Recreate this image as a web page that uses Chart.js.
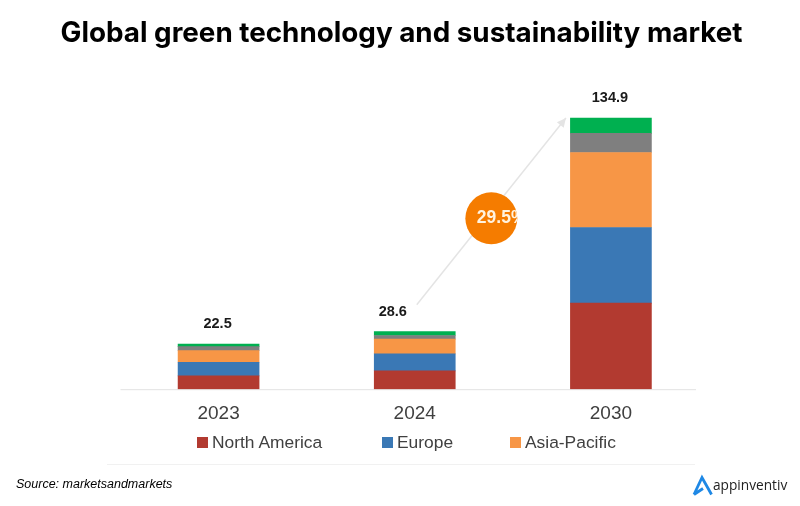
<!DOCTYPE html>
<html>
<head>
<meta charset="utf-8">
<script src="https://cdn.jsdelivr.net/npm/chart.js@4"></script>
<style>
  body { margin: 0; background: #fff; width: 800px; height: 506px; overflow: hidden; position: relative; }
  canvas { position: absolute; left: 0; top: 0; }
  #title { position: absolute; left: 0; width: 803px; top: 15px; text-align: center; font: 700 27.8px Inter, sans-serif; color: #000; white-space: nowrap; }
  #source { position: absolute; left: 16px; top: 477px; font: italic 12.5px "Liberation Sans", sans-serif; color: #000; }
  #rule { position: absolute; left: 107px; width: 588px; top: 464px; height: 1px; background: #f1f1f1; }
  #brand { position: absolute; left: 713px; top: 475px; font: 13.7px "Open Sans", sans-serif; color: #222; }
  #logo { position: absolute; left: 691px; top: 474px; }
  .key { position: absolute; top: 432px; font: 17.4px "Liberation Sans", sans-serif; color: #404040; white-space: nowrap; }
  .key i { position: absolute; left: -15px; top: 5px; width: 11px; height: 11px; }
</style>
</head>
<body>
<canvas id="chart" width="800" height="506"></canvas>
<div id="title">Global green technology and sustainability market</div>
<div id="legend"></div>
<div id="rule"></div>
<div id="source">Source: marketsandmarkets</div>
<svg id="logo" width="24" height="24" viewBox="0 0 24 24"><path d="M3 20.5 L11 3.5 L20.5 20.5 M3 20.5 L12 14.5" fill="none" stroke="#1E88E5" stroke-width="2.8"/></svg>
<div id="brand">appinventiv</div>
<script>
const categories = ['2023', '2024', '2030'];
const totals = [22.5, 28.6, 134.9];
const northAmerica = [6.6, 9.1, 42.8];
const europe = [6.8, 8.5, 37.6];
const asiaPacific = [5.8, 7.3, 37.3];
const grayRegion = [2.0, 1.8, 9.5];
const greenRegion = [1.3, 1.9, 7.7];
const cagrLabel = '29.5%';

const legendNames = ['North America', 'Europe', 'Asia-Pacific'];
const legendLeft = [212, 397, 525];

const datasets = [
  { label: 'North America', data: northAmerica, backgroundColor: '#B23A30' },
  { label: 'Europe', data: europe, backgroundColor: '#3A78B5' },
  { label: 'Asia-Pacific', data: asiaPacific, backgroundColor: '#F79646' },
  { label: 'Other 1', data: grayRegion, backgroundColor: '#7F7F7F' },
  { label: 'Other 2', data: greenRegion, backgroundColor: '#00B050' },
];

// baseline stops short of the plot's right edge in the original
const baseline = {
  id: 'baseline',
  beforeDatasetsDraw(chart) {
    const { ctx, chartArea, scales: { y } } = chart;
    ctx.save();
    ctx.strokeStyle = '#e2e2e2';
    ctx.lineWidth = 1;
    ctx.beginPath();
    ctx.moveTo(chartArea.left, y.getPixelForValue(0) + 0.5);
    ctx.lineTo(chartArea.right - 13, y.getPixelForValue(0) + 0.5);
    ctx.stroke();
    ctx.restore();
  },
};

// totals above the stacks, the 2024 one sits left of its bar
const labelShift = [0, -21, 0];
const totalLabels = {
  id: 'totalLabels',
  afterDatasetsDraw(chart) {
    const { ctx, scales: { x, y } } = chart;
    ctx.save();
    ctx.font = '700 14.5px "Liberation Sans", sans-serif';
    ctx.fillStyle = '#1a1a1a';
    ctx.textAlign = 'center';
    ctx.textBaseline = 'middle';
    totals.forEach((t, i) => {
      ctx.fillText(t.toFixed(1), x.getPixelForValue(i) + labelShift[i] - 1, y.getPixelForValue(t) - 19.5);
    });
    ctx.restore();
  },
};

const cagrArrow = {
  id: 'cagrArrow',
  afterDatasetsDraw(chart) {
    const { ctx, scales: { x, y } } = chart;
    const x0 = x.getPixelForValue(1) + 2;
    const y0 = y.getPixelForValue(totals[1]) - 27;
    const x1 = x.getPixelForValue(2) - 45;
    const y1 = y.getPixelForValue(totals[2]);
    const angle = Math.atan2(y1 - y0, x1 - x0);

    ctx.save();
    ctx.strokeStyle = '#e4e4e4';
    ctx.fillStyle = '#e4e4e4';
    ctx.lineWidth = 1.5;
    ctx.beginPath();
    ctx.moveTo(x0, y0);
    ctx.lineTo(x1, y1);
    ctx.stroke();
    ctx.beginPath();
    ctx.moveTo(x1, y1);
    ctx.lineTo(x1 - 10 * Math.cos(angle - 0.45), y1 - 10 * Math.sin(angle - 0.45));
    ctx.lineTo(x1 - 10 * Math.cos(angle + 0.45), y1 - 10 * Math.sin(angle + 0.45));
    ctx.closePath();
    ctx.fill();

    // badge, the % sign is cut off by the circle in the original
    const cx = (x0 + x1) / 2;
    const cy = (y0 + y1) / 2 + 7;
    ctx.beginPath();
    ctx.arc(cx, cy, 26, 0, Math.PI * 2);
    ctx.fillStyle = '#F57C00';
    ctx.fill();
    ctx.clip();
    ctx.font = '700 17.5px "Liberation Sans", sans-serif';
    ctx.fillStyle = '#FFF3E0';
    ctx.textAlign = 'left';
    ctx.textBaseline = 'middle';
    ctx.fillText(cagrLabel, cx - 14.5, cy);
    ctx.restore();
  },
};

legendNames.forEach((name, i) => {
  const item = document.createElement('div');
  item.className = 'key';
  item.style.left = legendLeft[i] + 'px';
  item.innerHTML = '<i style="background:' + datasets[i].backgroundColor + '"></i>' + name;
  document.getElementById('legend').appendChild(item);
});

new Chart(document.getElementById('chart').getContext('2d'), {
  type: 'bar',
  data: { labels: categories, datasets },
  plugins: [baseline, cagrArrow, totalLabels],
  options: {
    responsive: false,
    animation: false,
    layout: { padding: { left: 120.5, right: 91, top: 87.6, bottom: 76 } },
    plugins: { legend: { display: false }, title: { display: false }, tooltip: { enabled: false } },
    datasets: { bar: { barThickness: 81 } },
    scales: {
      x: {
        stacked: true,
        grid: { display: false },
        border: { display: false },
        ticks: { color: '#404040', font: { family: '"Liberation Sans", sans-serif', size: 19 }, padding: 5 },
      },
      y: { stacked: true, display: false, min: 0, max: 150 },
    },
  },
});
</script>
</body>
</html>
